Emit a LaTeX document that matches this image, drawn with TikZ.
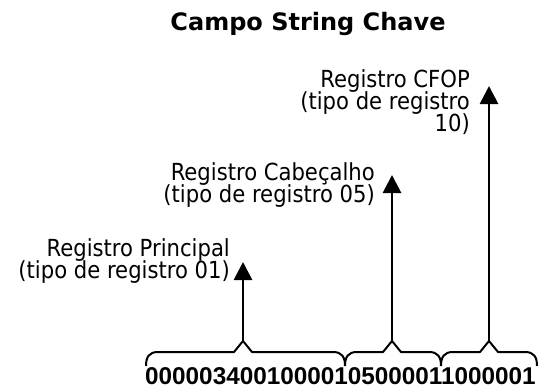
\documentclass[tikz,border=0pt]{standalone}
\usepackage{fontspec}
\setmainfont{DejaVu Sans}
\newfontfamily\condfont{DejaVu Sans Condensed}
\newfontfamily\digitfont{Liberation Sans}
\usetikzlibrary{arrows.meta}
\newcommand{\mybrace}[3]{%
  \draw[bracepath] (#1,366) .. controls (#1,357) and (#1+3,352) .. (#1+12,352)
     -- (#2-9,352) -- (#2,341) -- (#2+9,352) -- (#3-12,352)
     .. controls (#3-3,352) and (#3,357) .. (#3,366);}
\begin{document}
\begin{tikzpicture}[x=1pt,y=-1pt,
  lbl/.style={inner sep=0pt, font=\condfont\fontsize{23.5}{22}\selectfont},
  ttl/.style={inner sep=0pt, font=\bfseries\fontsize{24}{24}\selectfont},
  digits/.style={inner sep=0pt, font=\digitfont\bfseries\fontsize{24.3}{22}\selectfont},
  bracepath/.style={line width=2pt, line join=round},
  pointer/.style={line width=2.8pt, -{Triangle[length=18pt,width=18pt]}}]
\useasboundingbox (0,0) rectangle (540,388);
\fill[white] (0,0) rectangle (540,388);
% title
\node[ttl, anchor=base] (title) at (308,30) {Campo String Chave};
% labels
\node[lbl, anchor=base east] (cfopA) at (470,87) {Registro CFOP};
\node[lbl, anchor=base east] (cfopB) at (470,109) {(tipo de registro};
\node[lbl, anchor=base east] (cfopC) at (470,131) {10)};
\node[lbl, anchor=base east] (cabA) at (375,180) {Registro Cabeçalho};
\node[lbl, anchor=base east] (cabB) at (375,202) {(tipo de registro 05)};
\node[lbl, anchor=base east] (prinA) at (230,256) {Registro Principal};
\node[lbl, anchor=base east] (prinB) at (230,278) {(tipo de registro 01)};
% digit string
\node[digits, anchor=base west] (key) at (145,384) {00000340010000105000011000001};
% braces
\mybrace{146}{243}{345}
\mybrace{345}{392}{441}
\mybrace{441}{489}{537}
\coordinate (peakA) at (243,341);
\coordinate (peakB) at (392,341);
\coordinate (peakC) at (489,341);
\coordinate (tipA) at (243,262);
\coordinate (tipB) at (392,175);
\coordinate (tipC) at (489,86);
\draw[pointer] (peakA) -- (tipA);
\draw[pointer] (peakB) -- (tipB);
\draw[pointer] (peakC) -- (tipC);
\end{tikzpicture}
\end{document}
